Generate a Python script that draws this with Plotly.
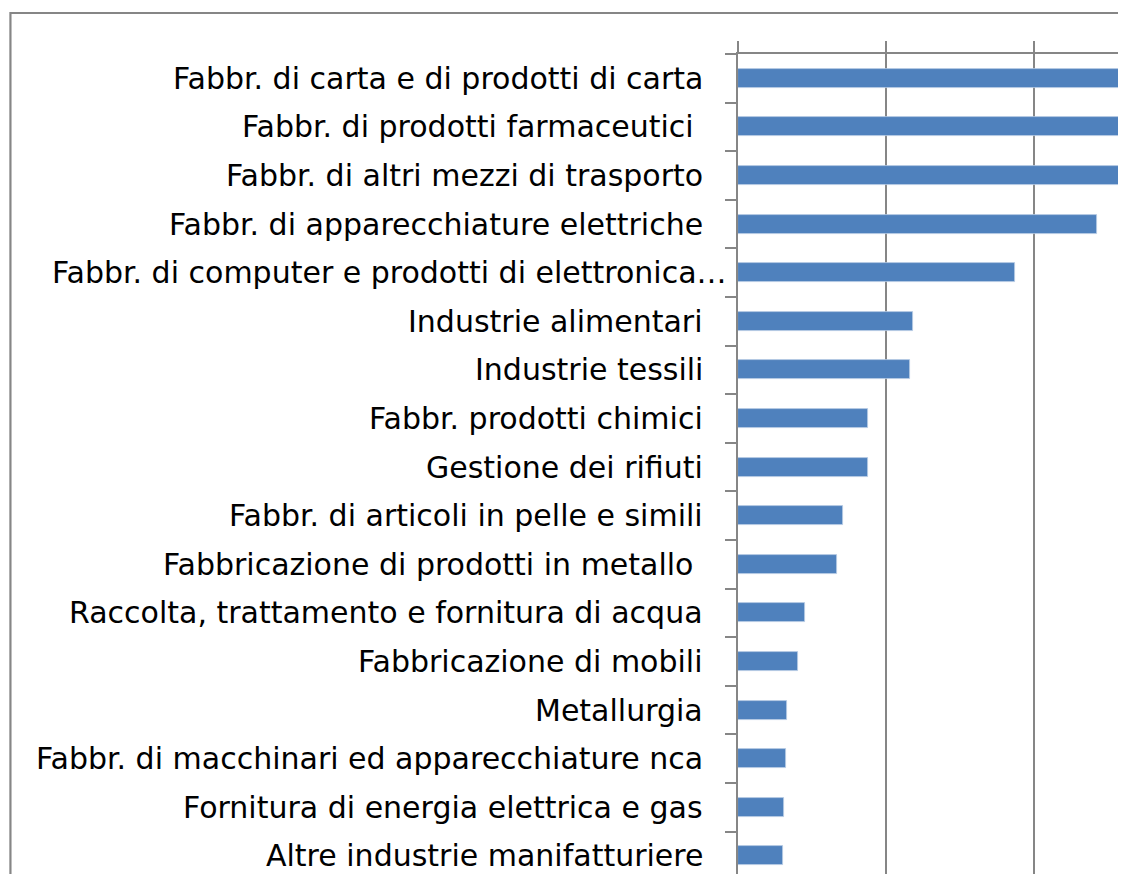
import plotly.graph_objects as go

# categories (top to bottom) and values
categories = [
    "Fabbr. di carta e di prodotti di carta",
    "Fabbr. di prodotti farmaceutici\u00a0",
    "Fabbr. di altri mezzi di trasporto",
    "Fabbr. di apparecchiature elettriche",
    "Fabbr. di computer e prodotti di elettronica…",
    "Industrie alimentari",
    "Industrie tessili",
    "Fabbr. prodotti chimici",
    "Gestione dei rifiuti",
    "Fabbr. di articoli in pelle e simili",
    "Fabbricazione di prodotti in metallo\u00a0",
    "Raccolta, trattamento e fornitura di acqua",
    "Fabbricazione di mobili",
    "Metallurgia",
    "Fabbr. di macchinari ed apparecchiature nca",
    "Fornitura di energia elettrica e gas",
    "Altre industrie manifatturiere",
]
values = [17.0, 15.5, 14.5, 12.14, 9.38, 5.91, 5.82, 4.41, 4.39, 3.56, 3.35,
          2.28, 2.02, 1.66, 1.62, 1.57, 1.51]

# variables (page has an 8px body margin, so the figure is 8px smaller)
size_plot = [1118, 866]
margin_l = 729.5
margin_t = 46
px_per_cat = 48.6
color_bar = "#4F81BD"
color_axis = "#868686"
font_family = "DejaVu Sans"
size_label = 30

fig = go.Figure()
fig.add_trace(go.Bar(
    x=values,
    y=categories,
    orientation="h",
    width=0.39,
    marker=dict(color=color_bar, line=dict(color="#B9CDE5", width=0.8)),
))

# category labels as annotations, right-aligned left of the axis
for cat in categories:
    shift = -9.5 if cat.endswith("…") else -33.5
    fig.add_annotation(
        x=0, xref="paper", xanchor="right", xshift=shift,
        y=cat, yref="y", yanchor="middle",
        text=cat, showarrow=False,
        font=dict(family=font_family, size=size_label, color="black"),
    )

plot_w = size_plot[0] - margin_l
plot_h = size_plot[1] - margin_t

# chart area border (cropped at right and bottom)
fig.add_shape(
    type="rect", xref="paper", yref="paper",
    x0=(1 - margin_l) / plot_w, x1=1.2,
    y0=-0.2, y1=1 + (margin_t - 5) / plot_h,
    line=dict(color=color_axis, width=2.2),
    fillcolor="rgba(0,0,0,0)", layer="below",
)

fig.update_layout(
    width=size_plot[0],
    height=size_plot[1],
    margin=dict(l=margin_l, r=0, t=margin_t, b=0),
    plot_bgcolor="white",
    paper_bgcolor="white",
    showlegend=False,
    bargap=0,
)
fig.update_xaxes(
    side="top", range=[0, 13.13], dtick=5, tick0=0,
    showgrid=True, gridcolor=color_axis, gridwidth=2.2,
    showline=True, linecolor=color_axis, linewidth=2.2,
    ticks="outside", ticklen=11, tickwidth=2.2, tickcolor=color_axis,
    showticklabels=False, zeroline=False,
)
fig.update_yaxes(
    type="category", range=[plot_h / px_per_cat - 0.5, -0.5],
    showline=True, linecolor=color_axis, linewidth=2.4,
    ticks="outside", ticklen=11, tickwidth=2.2, tickcolor=color_axis,
    tickson="boundaries", showticklabels=False, showgrid=False,
)

fig.write_html("out.html")
